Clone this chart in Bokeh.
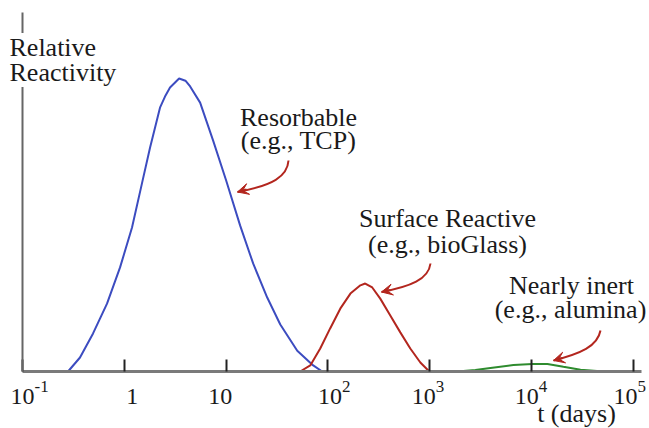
from bokeh.plotting import figure
from bokeh.models import Range1d, FixedTicker, Label, Arrow, VeeHead
from bokeh.embed import file_html
from bokeh.resources import INLINE

# ---------------- data ----------------
resorbable_t = [0.28, 0.367, 0.493, 0.676, 0.908, 1.19, 1.49, 1.79, 2.24, 2.54, 2.81,
                3.45, 3.98, 4.43, 5.55, 7.45, 10.0, 13.7, 18.4, 25.3, 34.0, 49.9, 71.6, 87.7]
resorbable_r = [0.0, 0.039, 0.106, 0.189, 0.290, 0.401, 0.524, 0.624, 0.735, 0.769, 0.791,
                0.816, 0.810, 0.794, 0.749, 0.643, 0.532, 0.407, 0.301, 0.206, 0.131, 0.058, 0.017, 0.0]

surface_t = [53.3, 67.0, 83.9, 105, 132, 166, 208, 232, 272, 326, 409, 513, 643, 807, 966]
surface_r = [0.0, 0.017, 0.064, 0.120, 0.175, 0.217, 0.240, 0.245, 0.234, 0.203, 0.156,
             0.109, 0.064, 0.025, 0.003]

inert_t = [1862, 2800, 3940, 6620, 10190, 14290, 20510, 30200, 50800]
inert_r = [0.0, 0.004, 0.010, 0.018, 0.021, 0.021, 0.013, 0.005, 0.0]

tick_values = [0.1, 1, 10, 100, 1000, 10000, 100000]
tick_base = ["10", "1", "10", "10", "10", "10", "10"]
tick_exp = ["-1", "", "", "2", "3", "4", "5"]

# ---------------- styling / layout ----------------
BLUE = "#3c4cc0"
RED = "#b3261e"
GREEN = "#2e8b2e"
TXT = "#1a1a1a"
FONT = "Liberation Serif"

W, H = 649, 428
PX_DEC = 101.83          # pixels per decade
AX_X, AX_Y, AX_H = 22, 371, 359   # axis corner and y-axis height in pixels
TEXT_DY = -8             # baseline correction for text placement

def at(X, Y):
    """picture pixel position -> data space (annotation placement only)"""
    return 10 ** (-1 + (X - AX_X) / PX_DEC), (AX_Y - Y) / AX_H

x0, y0 = at(0, H)
x1, y1 = at(W, 0)
x_axis_end, _ = at(641, 0)

p = figure(width=W, height=H, x_axis_type="log",
           x_range=Range1d(x0, x1), y_range=Range1d(y0, y1),
           output_backend="svg", toolbar_location=None, title=None,
           min_border=0, min_border_left=0, min_border_right=0,
           min_border_top=0, min_border_bottom=0)
p.grid.visible = False
p.outline_line_color = None
p.background_fill_color = "white"
p.border_fill_color = "white"

xa = p.xaxis[0]
xa.fixed_location = 0
xa.bounds = (0.1, x_axis_end)
xa.ticker = FixedTicker(ticks=tick_values, minor_ticks=[])
xa.major_label_overrides = {t: "" for t in tick_values}
xa.major_label_text_font_size = "1px"
xa.major_label_standoff = 0
xa.axis_line_color = "#7a7a7a"
xa.axis_line_width = 3
xa.major_tick_in = 12
xa.major_tick_out = 0
xa.major_tick_line_color = "#222222"
xa.major_tick_line_width = 2

ya = p.yaxis[0]
ya.fixed_location = 0.1
ya.bounds = (0, 1)
ya.ticker = FixedTicker(ticks=[0.5], minor_ticks=[])
ya.major_label_overrides = {0.5: ""}
ya.major_label_text_font_size = "1px"
ya.major_label_standoff = 0
ya.major_tick_line_color = None
ya.major_tick_in = 0
ya.major_tick_out = 0
ya.minor_tick_in = 0
ya.minor_tick_out = 0
ya.axis_line_color = "#666666"
ya.axis_line_width = 2

# curves
p.line(resorbable_t, resorbable_r, line_color=BLUE, line_width=2)
p.line(surface_t, surface_r, line_color=RED, line_width=2)
p.line(inert_t, inert_r, line_color=GREEN, line_width=2)

# tick labels (10 with superscript exponent)
plain_off = {"1": 8, "10": -6}
expo_off = [12, 0, 0, 14, 6, 7, 4]
_, yb = at(0, 404 + TEXT_DY)
_, ye = at(0, 394 + TEXT_DY)
for i, (tv, b, e) in enumerate(zip(tick_values, tick_base, tick_exp)):
    if e == "":
        p.add_layout(Label(x=tv, y=yb, text=b, text_font=FONT, text_font_size="24px",
                           text_color=TXT, text_align="center", text_baseline="alphabetic",
                           x_offset=plain_off[b]))
    else:
        p.add_layout(Label(x=tv, y=yb, text=b, text_font=FONT, text_font_size="24px",
                           text_color=TXT, text_align="right", text_baseline="alphabetic",
                           x_offset=expo_off[i]))
        p.add_layout(Label(x=tv, y=ye, text=e, text_font=FONT, text_font_size="17px",
                           text_color=TXT, text_align="left", text_baseline="alphabetic",
                           x_offset=expo_off[i]))

def txt(X, Y, s, align="center", size="26px", bg=None):
    x, y = at(X, Y + TEXT_DY)
    kw = dict(background_fill_color=bg) if bg else {}
    p.add_layout(Label(x=x, y=y, text=s, text_font=FONT, text_font_size=size,
                       text_color=TXT, text_align=align, text_baseline="alphabetic", **kw))

txt(9, 55, "Relative", align="left", bg="white")
txt(9, 80, "Reactivity", align="left", bg="white")
txt(298, 125, "Resorbable")
txt(298, 148, "(e.g., TCP)")
txt(447, 226, "Surface Reactive")
txt(447, 252, "(e.g., bioGlass)")
txt(571, 293, "Nearly inert")
txt(570, 317, "(e.g., alumina)")
txt(576, 421, "t (days)")

# curved arrows: bezier body + vee head
def curved_arrow(P0, C0, C1, P1, head_from):
    bx0, by0 = at(*P0); cx0, cy0 = at(*C0); cx1, cy1 = at(*C1); bx1, by1 = at(*P1)
    p.bezier(x0=[bx0], y0=[by0], x1=[bx1], y1=[by1], cx0=[cx0], cy0=[cy0], cx1=[cx1], cy1=[cy1],
             line_color=RED, line_width=2)
    hx, hy = at(*head_from)
    p.add_layout(Arrow(end=VeeHead(size=11, fill_color=RED, line_color=RED, line_width=1),
                       x_start=hx, y_start=hy, x_end=bx1, y_end=by1,
                       line_color=RED, line_width=2))

curved_arrow((288, 160), (287, 176), (272, 185), (237, 191.5), (246, 189))
curved_arrow((430, 263), (428, 279), (410, 286), (381, 291.5), (390, 289.5))
curved_arrow((600, 330), (597, 346), (580, 353), (553, 360), (562, 357.5))

open("out.html", "w").write(file_html(p, INLINE))
